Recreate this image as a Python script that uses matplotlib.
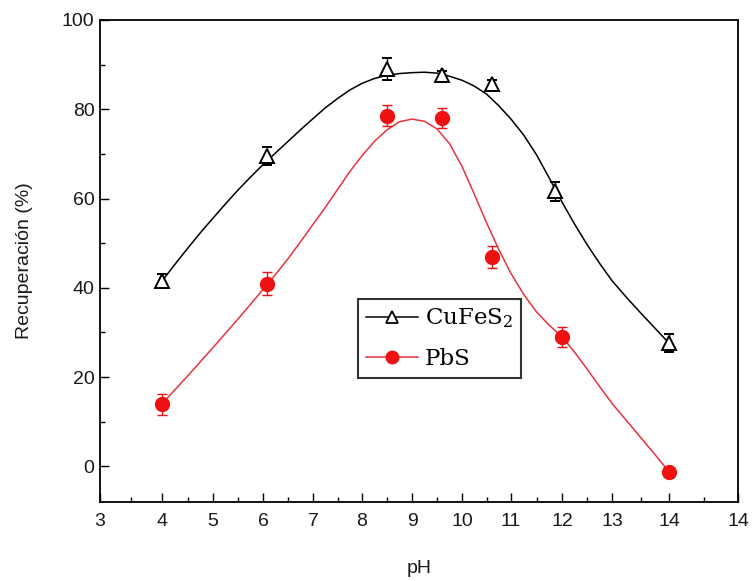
import numpy as np
import matplotlib
matplotlib.use('Agg')
import matplotlib.pyplot as plt
from matplotlib.lines import Line2D

plt.rcParams['font.family'] = ['Liberation Sans', 'DejaVu Sans']
plt.rcParams['mathtext.fontset'] = 'dejavuserif'

# puntos medidos
ph_cu = [4.0, 6.08, 8.5, 9.6, 10.62, 11.87, 14.0]
rec_cu = [41.5, 69.5, 89.0, 87.6, 85.6, 61.6, 27.6]
err_cu = [1.5, 2.0, 2.5, 1.0, 1.0, 2.2, 2.0]

ph_pb = [4.0, 6.08, 8.5, 9.6, 10.62, 12.0, 14.0]
rec_pb = [13.9, 40.9, 78.6, 78.0, 46.9, 28.9, -1.2]
err_pb = [2.3, 2.6, 2.3, 2.3, 2.5, 2.2, 0.8]

# curvas de ajuste (paso 0.25)
ph_fit = [4.0, 4.25, 4.5, 4.75, 5.0, 5.25, 5.5, 5.75, 6.0, 6.25, 6.5, 6.75,
          7.0, 7.25, 7.5, 7.75, 8.0, 8.25, 8.5, 8.75, 9.0, 9.25, 9.5, 9.75,
          10.0, 10.25, 10.5, 10.75, 11.0, 11.25, 11.5, 11.75, 12.0, 12.25,
          12.5, 12.75, 13.0, 13.25, 13.5, 13.75, 14.0]
fit_cu = [41.5, 45.2, 48.8, 52.3, 55.6, 58.8, 61.9, 64.8, 67.6, 70.2, 72.8, 75.4,
          77.9, 80.3, 82.4, 84.3, 85.8, 86.9, 87.6, 88.0, 88.2, 88.3, 88.1, 87.4,
          86.5, 85.2, 83.4, 80.8, 77.8, 74.2, 69.8, 64.6, 59.2, 54.3,
          49.7, 45.5, 41.6, 37.9, 34.4, 31.0, 27.6]
fit_pb = [14.0, 17.1, 20.2, 23.4, 26.6, 29.8, 33.0, 36.3, 39.6, 43.0, 46.5, 50.3,
          54.2, 58.0, 62.0, 66.0, 69.6, 72.8, 75.4, 77.2, 77.8, 77.3, 75.6, 72.3,
          67.2, 61.0, 54.6, 48.6, 43.2, 38.5, 34.6, 31.6, 29.0, 25.6,
          21.8, 17.9, 14.1, 10.3, 6.5, 2.7, -1.2]

# eje x del original: no es uniforme (posiciones en px de cada marca)
x_ticks = [3, 4, 5, 6, 7, 8, 9, 10, 11, 12, 13, 14, 15]
x_labels = ['3', '4', '5', '6', '7', '8', '9', '10', '11', '12', '13', '14', '14']
x_px = [100, 162, 213, 263, 313, 362, 412, 462, 511, 562, 612, 669, 738]

def fwd(x):
    return np.interp(x, x_ticks, x_px)

def inv(p):
    return np.interp(p, x_px, x_ticks)

fig = plt.figure(figsize=(7.53, 5.81), dpi=100)
ax = fig.add_axes([100/753, 1-502/581, 638/753, 482/581])
ax.set_xscale('function', functions=(fwd, inv))

red_line = '#e8333d'
red_mk = '#ee1111'

ax.plot(ph_fit, fit_cu, color='black', lw=1.1, zorder=2)
ax.plot(ph_fit, fit_pb, color=red_line, lw=1.1, zorder=2)

ax.errorbar(ph_cu, rec_cu, yerr=err_cu, fmt='^', ms=10.5, mfc='white', mec='black',
            mew=1.4, ecolor='black', elinewidth=1.0, capsize=3.5, capthick=1.0, zorder=3)
ax.errorbar(ph_pb, rec_pb, yerr=err_pb, fmt='o', ms=10, mfc=red_mk, mec=red_mk,
            ecolor=red_mk, elinewidth=1.0, capsize=3.5, capthick=1.0, zorder=3)

ax.set_xlim(3, 15)
ax.set_ylim(-8, 100)
ax.set_xticks(x_ticks)
ax.set_xticklabels(x_labels)
ax.set_xticks([v + 0.5 for v in x_ticks[:-1]], minor=True)
ax.set_yticks([0, 20, 40, 60, 80, 100])
ax.set_yticks([10, 30, 50, 70, 90], minor=True)

ax.tick_params(which='both', direction='in', top=False, right=False,
               labelsize=14, labelcolor='#1a1a1a', width=1.0)
ax.tick_params(which='major', length=6.5)
ax.tick_params(which='minor', length=3.5)
ax.tick_params(axis='x', pad=8)
ax.tick_params(axis='y', pad=4)
for s in ax.spines.values():
    s.set_linewidth(1.3)

ax.set_xlabel('pH', fontsize=14, color='#1a1a1a')
ax.set_ylabel('Recuperación (%)', fontsize=14, color='#1a1a1a')
ax.xaxis.set_label_coords(0.5, -0.12)
ax.yaxis.set_label_coords(-0.105, 0.5)

handles = [
    Line2D([], [], color='black', lw=1.1, marker='^', ms=8, mfc='white', mec='black', mew=1.3),
    Line2D([], [], color=red_line, lw=1.1, marker='o', ms=9, mfc=red_mk, mec=red_mk),
]
leg = ax.legend(handles, [r'CuFeS$_2$', 'PbS'], loc='upper left',
                bbox_to_anchor=((358 - 100) / 638, (502 - 299) / 482),
                borderaxespad=0, frameon=True, fancybox=False, edgecolor='black',
                prop={'family': 'DejaVu Serif', 'size': 16.5}, handlelength=2.3,
                handletextpad=0.3, labelspacing=0.8, borderpad=0.33)
leg.get_frame().set_linewidth(1.5)

fig.savefig('out.png', dpi=100)
